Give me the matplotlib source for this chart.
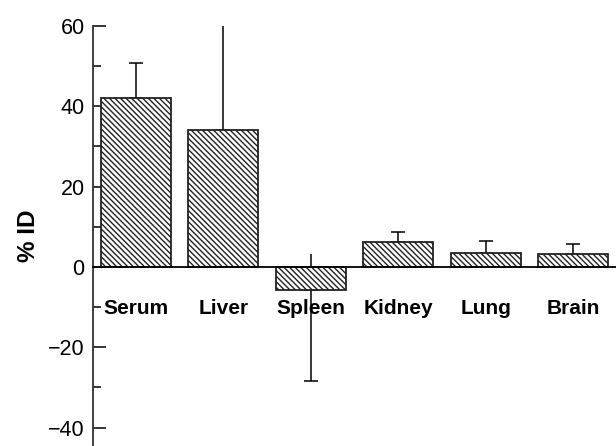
import matplotlib
matplotlib.use("Agg")
import matplotlib.pyplot as plt
from matplotlib.ticker import MultipleLocator

plt.rcParams["font.family"] = ["Liberation Sans", "DejaVu Sans"]
plt.rcParams["hatch.linewidth"] = 1.0
plt.rcParams["hatch.color"] = "#333333"

# organ uptake, % injected dose
organs = ["Serum", "Liver", "Spleen", "Kidney", "Lung", "Brain"]
uptake = [42.0, 34.1, -5.65, 6.2, 3.4, 3.2]
# one-sided error (away from zero)
err = [8.8, 28.0, 22.7, 2.6, 3.1, 2.5]

fig = plt.figure(figsize=(6.16, 4.46), dpi=100)
ax = fig.add_axes([0.151, 0.0, 0.849, 0.9417])

x = list(range(len(organs)))
lower = [e if v < 0 else 0 for v, e in zip(uptake, err)]
upper = [e if v >= 0 else 0 for v, e in zip(uptake, err)]

ax.errorbar(x, uptake, yerr=[lower, upper], fmt="none", ecolor="black",
            elinewidth=1.1, capsize=5, capthick=1.1, zorder=1)
ax.bar(x, uptake, width=0.8, facecolor="white", edgecolor="#222222",
       linewidth=1.3, hatch="\\" * 6, zorder=2)

ax.set_xlim(-0.49, 5.49)
ax.set_ylim(-44.6, 60)

ax.spines["top"].set_visible(False)
ax.spines["right"].set_visible(False)
ax.spines["bottom"].set_position(("data", 0))
ax.spines["bottom"].set_zorder(3)
ax.spines["left"].set_color("#333333")
ax.spines["left"].set_linewidth(1.3)
ax.spines["bottom"].set_linewidth(1.3)

ax.yaxis.set_minor_locator(MultipleLocator(10))
ax.set_yticks([-40, -20, 0, 20, 40, 60])
ax.set_yticklabels(["\u221240", "\u221220", "0", "20", "40", "60"])
ax.tick_params(axis="y", which="major", direction="in", length=9, width=1.1,
               labelsize=15.5, pad=6)
ax.tick_params(axis="y", which="minor", direction="in", length=5.5, width=1.1)

ax.set_xticks(x)
ax.set_xticklabels(organs, fontweight="bold")
ax.tick_params(axis="x", direction="in", length=9.5, width=1.1,
               labelsize=15, pad=23)
for t in ax.xaxis.get_major_ticks():
    t.tick1line.set_zorder(4)

ax.set_ylabel("% ID", fontsize=17.5, fontweight="bold", labelpad=6)

fig.savefig("out.png", dpi=100)
